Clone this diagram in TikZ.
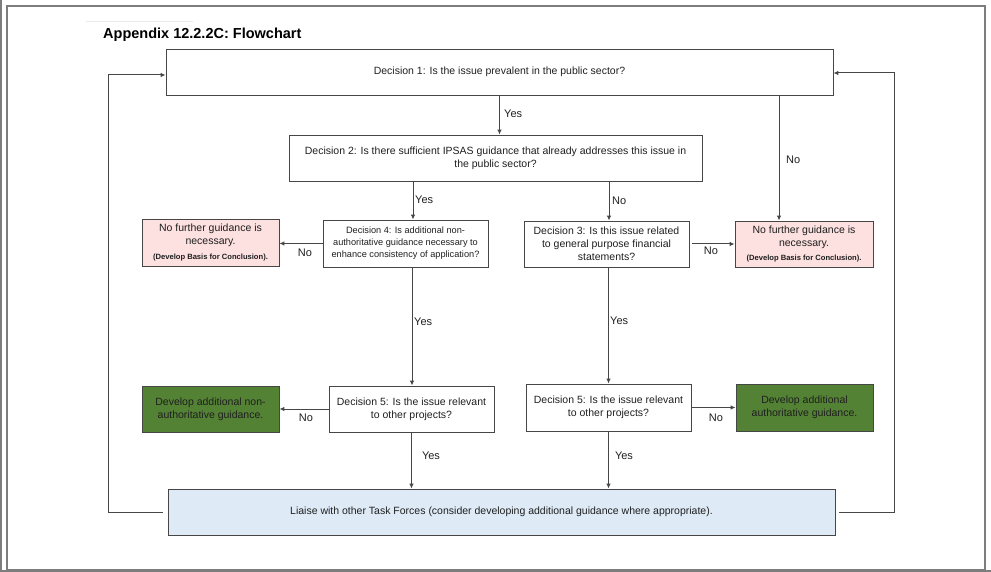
\documentclass[tikz,border=0pt]{standalone}
\usepackage{fontspec}
\setmainfont{Liberation Sans}
\usetikzlibrary{arrows.meta}
\definecolor{pinkfill}{RGB}{253,224,224}
\definecolor{greenfill}{RGB}{84,130,53}
\definecolor{bluefill}{RGB}{222,235,247}
\definecolor{linegray}{RGB}{70,70,70}
\definecolor{framegray}{RGB}{125,125,125}
\begin{document}
\begin{tikzpicture}[x=1pt,y=-1pt,
  box/.style={draw=linegray, line width=0.9pt, align=center, inner sep=0pt,
    text=black!88, font=\fontsize{10.5}{12.8}\selectfont},
  smallbox/.style={box, font=\fontsize{9.2}{12}\selectfont},
  pinkbox/.style={box, fill=pinkfill},
  greenbox/.style={box, fill=greenfill},
  bluebox/.style={box, fill=bluefill},
  arr/.style={draw=linegray, line width=1pt, -{Latex[length=5pt,width=4.6pt]}},
  lbl/.style={inner sep=0pt, font=\fontsize{11}{13}\selectfont, text=black!88},
]
\useasboundingbox (0,0) rectangle (991,572);
% frame
\draw[framegray, line width=1.3pt] (7,6) rectangle (985,570);
\draw[framegray, line width=1.5pt] (0.75,0) -- (0.75,572);
\draw[framegray, line width=1.5pt] (0,571) -- (991,571);
\draw[black!8, line width=0.6pt] (86,21) -- (193,21);
% title
\node[anchor=west, inner sep=0pt, font=\fontsize{14.5}{16}\selectfont\bfseries] (title) at (103,35) {Appendix 12.2.2C: Flowchart};

% boxes
\node[box, minimum width=667pt, minimum height=46pt] (d1) at (499.5,72)
  {Decision 1: Is the issue prevalent in the public sector?};
\node[box, minimum width=413pt, minimum height=46pt] (d2) at (495.5,158)
  {Decision 2: Is there sufficient IPSAS guidance that already addresses this issue in\\the public sector?};
\node[smallbox, minimum width=165pt, minimum height=47pt] (d4) at (405.5,243.5)
  {Decision 4: Is additional non-\\authoritative guidance necessary to\\enhance consistency of application?};
\node[pinkbox, minimum width=137pt, minimum height=47pt] (pl) at (210.5,242.5)
  {No further guidance is\\necessary.\\[1.5pt]{\fontsize{7.6}{9}\selectfont\bfseries (Develop Basis for Conclusion).}};
\node[box, minimum width=165pt, minimum height=46pt] (d3) at (606.5,244)
  {Decision 3: Is this issue related\\to general purpose financial\\statements?};
\node[pinkbox, minimum width=138pt, minimum height=46pt] (pr) at (804,244)
  {No further guidance is\\necessary.\\[1.5pt]{\fontsize{7.6}{9}\selectfont\bfseries (Develop Basis for Conclusion).}};
\node[box, minimum width=165pt, minimum height=46pt] (d5l) at (411.5,409)
  {Decision 5: Is the issue relevant\\to other projects?};
\node[greenbox, minimum width=137pt, minimum height=46pt] (gl) at (210.5,409)
  {Develop additional non-\\authoritative guidance.};
\node[box, minimum width=165pt, minimum height=47pt] (d5r) at (608.5,407.5)
  {Decision 5: Is the issue relevant\\to other projects?};
\node[greenbox, minimum width=137pt, minimum height=47pt] (gr) at (804.5,407.5)
  {Develop additional\\authoritative guidance.};
\node[bluebox, minimum width=667pt, minimum height=46pt] (li) at (501.5,512)
  {Liaise with other Task Forces (consider developing additional guidance where appropriate).};

% helper coordinates
\coordinate (c1) at ([xshift=-25pt]pr.north);
\coordinate (t4) at ([xshift=7.5pt]d4.north);
\coordinate (t3) at ([xshift=2.5pt]d3.north);
\coordinate (t5) at ([xshift=0.5pt]d5l.north);
\coordinate (lpL) at (108.5,300);
\coordinate (lpR) at (894.5,300);

% connectors
\draw[arr] (d1.south) -- (d1.south |- d2.north);
\draw[arr] (c1 |- d1.south) -- (c1);
\draw[arr] (t4 |- d2.south) -- (t4);
\draw[arr] (t3 |- d2.south) -- (t3);
\draw[arr] (d4.west) -- (d4.west -| pl.east);
\draw[arr, shorten <=3pt] (d3.east) -- (d3.east -| pr.west);
\draw[arr] (t5 |- d4.south) -- (t5);
\draw[arr] (d5r.north |- d3.south) -- (d5r.north);
\draw[arr] (d5l.west) -- (d5l.west -| gl.east);
\draw[arr] (d5r.east) -- (d5r.east -| gr.west);
\draw[arr] (d5l.south) -- (d5l.south |- li.north);
\draw[arr] (d5r.south) -- (d5r.south |- li.north);
\draw[arr] ([xshift=-5pt]li.west) -| (lpL) |- ([yshift=-3pt]d1.west);
\draw[arr] ([xshift=4pt]li.east) -| (lpR) |- ([yshift=-1pt]d1.east);

% labels
\node[lbl, anchor=west] (y1) at (504,114) {Yes};
\node[lbl, anchor=west] (n1) at (786,160) {No};
\node[lbl, anchor=west] (y2) at (415,200) {Yes};
\node[lbl, anchor=west] (n2) at (612,201) {No};
\node[lbl] (n4) at (305,253) {No};
\node[lbl, anchor=west] (y4) at (414,322) {Yes};
\node[lbl] (n3) at (711,251) {No};
\node[lbl, anchor=west] (y3) at (610,321) {Yes};
\node[lbl] (n5l) at (306,418) {No};
\node[lbl] (n5r) at (716,418) {No};
\node[lbl] (y5l) at (431,456) {Yes};
\node[lbl] (y5r) at (624,456) {Yes};
\end{tikzpicture}
\end{document}
